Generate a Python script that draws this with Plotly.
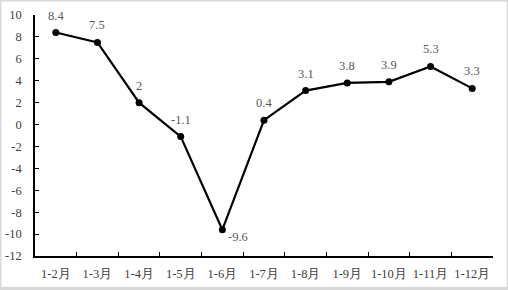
import plotly.graph_objects as go

categories = ["1-2月", "1-3月", "1-4月", "1-5月", "1-6月", "1-7月", "1-8月", "1-9月", "1-10月", "1-11月", "1-12月"]
values = [8.4, 7.5, 2, -1.1, -9.6, 0.4, 3.1, 3.8, 3.9, 5.3, 3.3]
label_texts = ["8.4", "7.5", "2", "-1.1", "-9.6", "0.4", "3.1", "3.8", "3.9", "5.3", "3.3"]
y_ticks = [10, 8, 6, 4, 2, 0, -2, -4, -6, -8, -10, -12]

W, H = 508, 290
L, R, T, B = 35, 15.3, 15, 33.5
pw, ph = W - L - R, H - T - B

def px(x):
    return (x - L) / pw

def py(y):
    return (H - B - y) / ph

FONT = "Liberation Serif"

fig = go.Figure()
fig.add_trace(go.Scatter(
    x=categories, y=values, mode="lines+markers",
    line=dict(color="black", width=2.2),
    marker=dict(color="black", size=7),
    hoverinfo="skip", showlegend=False,
))

annotations = []
for i, (c, v, t) in enumerate(zip(categories, values, label_texts)):
    if t == "-9.6":
        xs, ys = 16, -7
    else:
        xs, ys = 0, 17
    annotations.append(dict(
        x=c, y=v, text=t, showarrow=False, xshift=xs, yshift=ys,
        font=dict(family=FONT, size=12.5, color="#595959"),
    ))

fig.update_layout(
    width=W, height=H,
    margin=dict(l=L, r=R, t=T, b=B, pad=0, autoexpand=False),
    paper_bgcolor="#d9d9d9",
    plot_bgcolor="white",
    font=dict(family=FONT, size=12.5, color="#404040"),
    annotations=annotations,
    shapes=[dict(
        type="rect", xref="paper", yref="paper",
        x0=px(1.5), x1=px(506.3), y0=py(287.3), y1=py(1.5),
        fillcolor="white", line=dict(width=0), layer="below",
    )],
)

fig.update_xaxes(
    type="category", range=[-0.5, 10.5], automargin=False, tickangle=0,
    tickson="boundaries", ticks="inside", ticklen=4, tickcolor="black", tickwidth=1.3,
    showline=True, linecolor="black", linewidth=1.5,
    showgrid=False, zeroline=False,
    tickfont=dict(family=FONT, size=12.5, color="#404040"),
    ticklabelstandoff=5,
)
fig.update_yaxes(
    range=[-12, 10], tickvals=y_ticks, ticktext=[str(v) for v in y_ticks],
    automargin=False,
    ticks="inside", ticklen=4, tickcolor="black", tickwidth=1.3,
    showline=True, linecolor="black", linewidth=1.5,
    showgrid=False, zeroline=False,
    tickfont=dict(family=FONT, size=12.5, color="#404040"),
    ticklabelstandoff=9,
)

fig.write_html("out.html")
